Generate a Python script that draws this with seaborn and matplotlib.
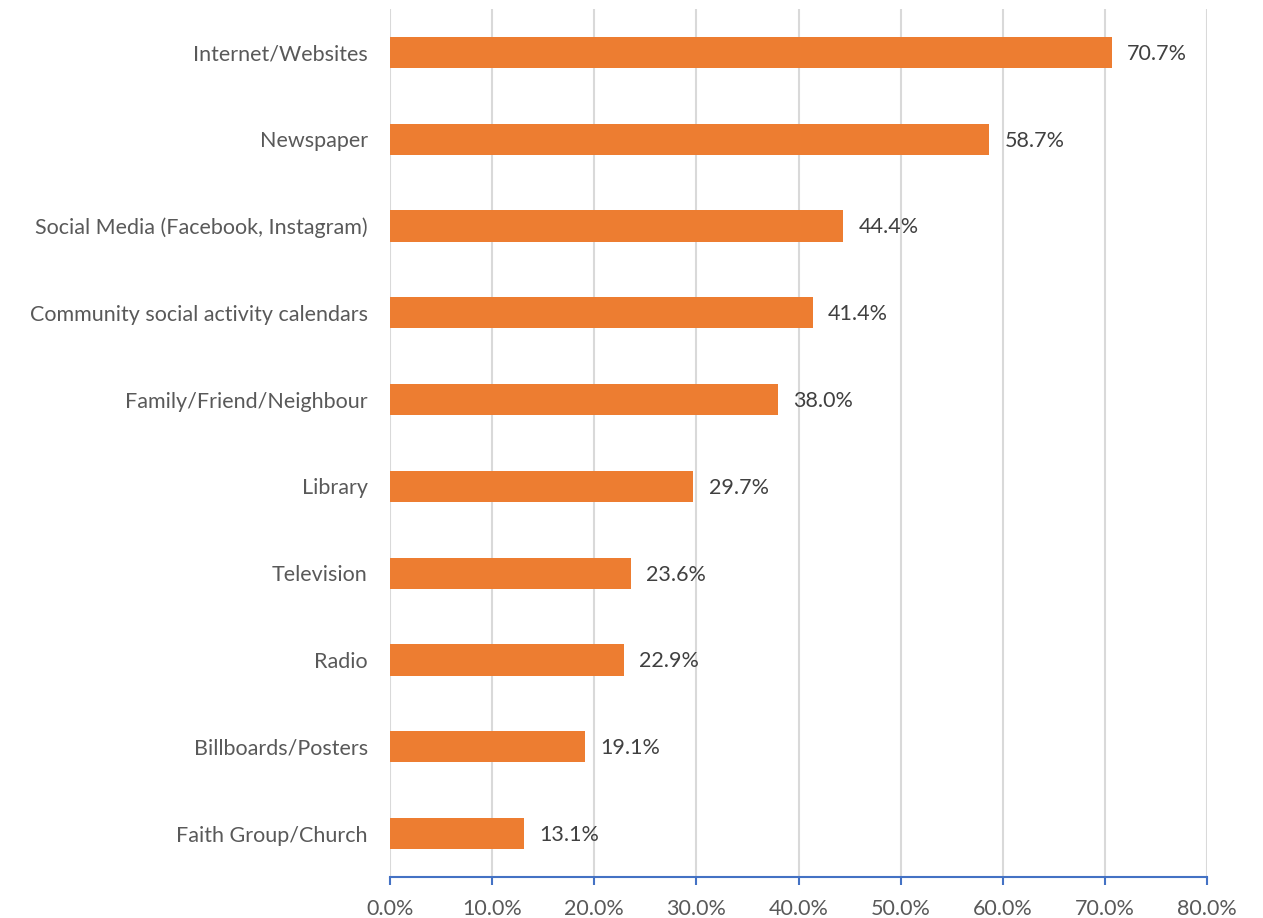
import matplotlib
matplotlib.use("Agg")
import matplotlib.pyplot as plt
import seaborn as sns
import pandas as pd
from matplotlib.ticker import FuncFormatter, MultipleLocator

categories = [
    "Internet/Websites",
    "Newspaper",
    "Social Media (Facebook, Instagram)",
    "Community social activity calendars",
    "Family/Friend/Neighbour",
    "Library",
    "Television",
    "Radio",
    "Billboards/Posters",
    "Faith Group/Church",
]
values = [70.7, 58.7, 44.4, 41.4, 38.0, 29.7, 23.6, 22.9, 19.1, 13.1]

df = pd.DataFrame({"source": categories, "pct": values})

sns.set_theme(style="white")
plt.rcParams["font.family"] = ["Lato", "DejaVu Sans"]

fig = plt.figure(figsize=(12.63, 9.18), dpi=100)
ax = fig.add_axes([390 / 1263, 1 - 877 / 918, (1207 - 390) / 1263, (877 - 9) / 918])

sns.barplot(data=df, x="pct", y="source", color="#ED7D31", saturation=1,
            width=0.36, linewidth=0, ax=ax, zorder=3)

ax.set_xlim(0, 80)
ax.set_ylim(len(categories) - 0.5, -0.5)
ax.xaxis.set_major_locator(MultipleLocator(10))
ax.xaxis.set_major_formatter(FuncFormatter(lambda v, p: f"{v:.1f}%"))
ax.grid(axis="x", color="#D9D9D9", linewidth=1.5, zorder=0)
ax.set_axisbelow(True)

for side in ["top", "right", "left"]:
    ax.spines[side].set_visible(False)
ax.spines["bottom"].set_color("#4472C4")
ax.spines["bottom"].set_linewidth(1.5)

ax.tick_params(axis="x", bottom=True, length=6, width=1.5, color="#4472C4",
               labelsize=15.5, labelcolor="#595959", pad=10)
ax.tick_params(axis="y", left=False, labelsize=15.5, labelcolor="#595959", pad=10)
ax.set_xlabel("")
ax.set_ylabel("")

for i, v in enumerate(values):
    ax.annotate(f"{v:.1f}%", xy=(v, i), xytext=(11, -1), textcoords="offset points",
                va="center", ha="left", fontsize=15.5, color="#404040")

fig.savefig("out.png", dpi=100)
